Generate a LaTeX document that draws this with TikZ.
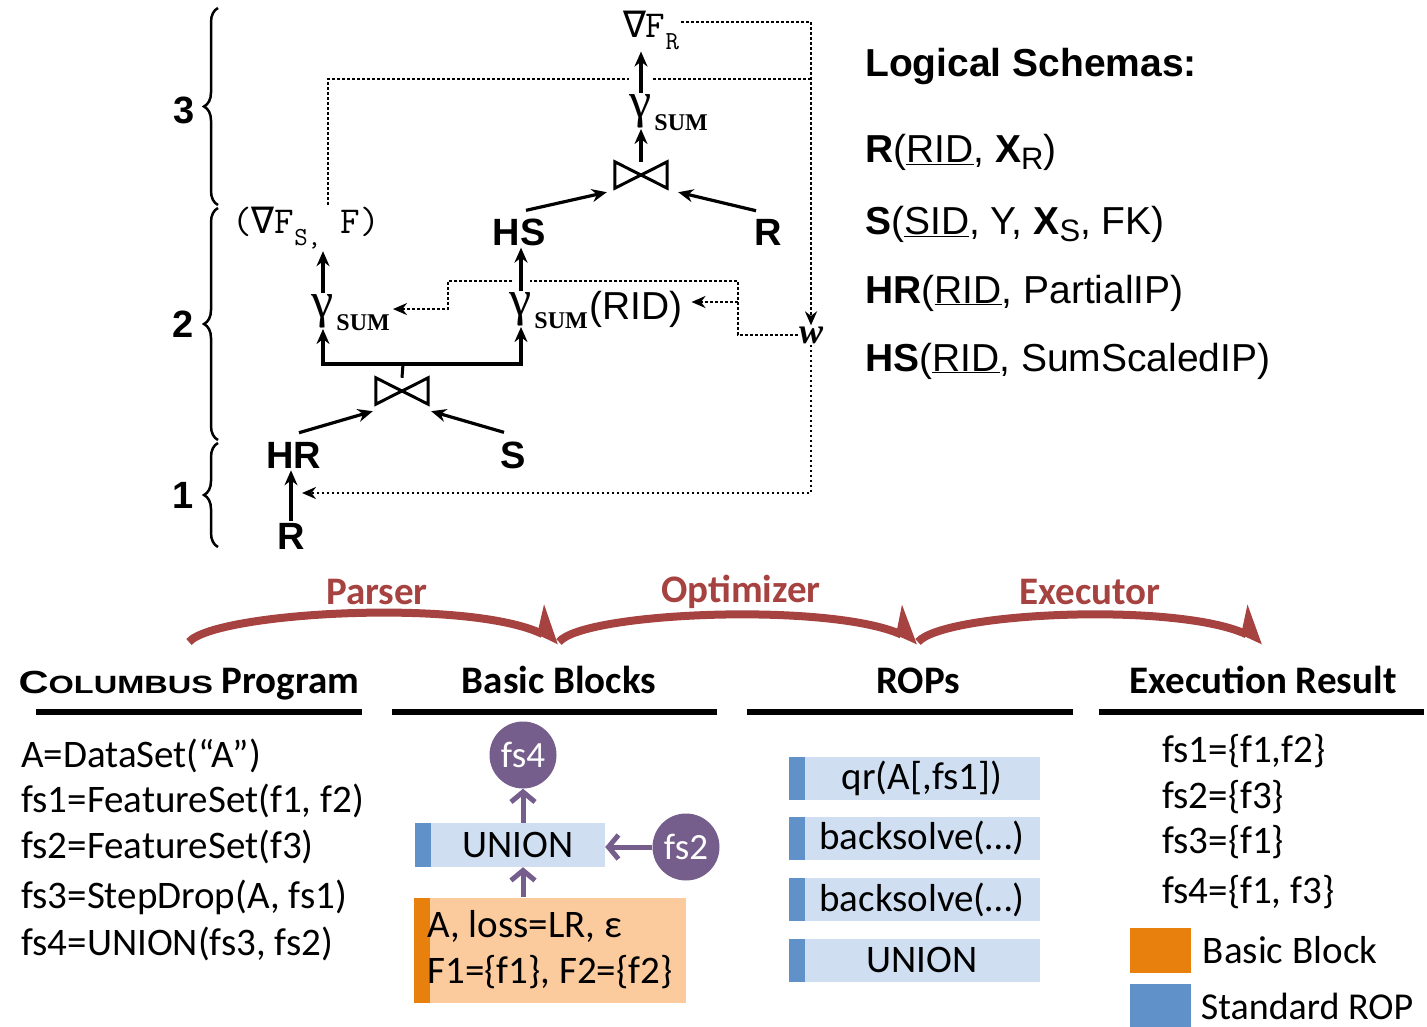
\documentclass[tikz,border=0pt]{standalone}
\usepackage{graphicx}
\usepackage{fontspec}
\usepackage{tikz}
\usetikzlibrary{arrows.meta,positioning,decorations.pathreplacing}
\setmainfont{Liberation Sans}
\newfontfamily\calibri{Carlito}
\newfontfamily\serifrm{Liberation Serif}
\newfontfamily\nablafont{DejaVu Sans Mono}
\newcommand\fsz[1]{\fontsize{#1}{#1}\selectfont}
\newcommand\grad{{\nablafont ∇}}
\definecolor{flowred}{RGB}{166,66,64}
\definecolor{fsviolet}{RGB}{117,94,140}
\definecolor{ropfill}{RGB}{207,223,241}
\definecolor{ropbar}{RGB}{96,145,201}
\definecolor{bbfill}{RGB}{251,203,157}
\definecolor{bbbar}{RGB}{232,128,14}

\begin{document}
\begin{tikzpicture}[
    x=1pt, y=-1pt,
    rel/.style={font=\bfseries\fsz{38}, inner sep=2pt},
    gam/.style={font=\serifrm\fsz{50}, inner sep=1pt},
    agg/.style={font=\serifrm\bfseries\fsz{24}, inner sep=0pt, anchor=base west},
    mono/.style={font=\ttfamily\fsz{38}, inner sep=2pt},
    bowtie/.style={minimum width=52pt, minimum height=26pt, inner sep=0pt},
    arrow/.style={-{Stealth[length=15pt,width=13pt]}, line width=3.2pt},
    fb/.style={line width=2.6pt, dash pattern=on 2.6pt off 2.4pt},
    fbarrow/.style={fb, -{Stealth[length=14pt,width=12pt]}},
    brace/.style={decorate, decoration={brace, amplitude=14pt}, line width=2.5pt},
    stage/.style={font=\bfseries\fsz{38}},
    schema/.style={font=\fsz{39}, anchor=base west, inner sep=0pt},
    phase/.style={font=\calibri\bfseries\fsz{39}, text=flowred},
    flow/.style={draw=flowred, line width=8pt, -{Stealth[harpoon, length=27pt, width=54pt, inset=6pt]}},
    head/.style={font=\calibri\bfseries\fsz{39}, anchor=base},
    hrule/.style={line width=5.5pt},
    code/.style={font=\calibri\fsz{39}, anchor=base west, inner sep=0pt},
    fset/.style={circle, fill=fsviolet, minimum size=67pt, inner sep=0pt, text=white, font=\calibri\fsz{37}},
    varrow/.style={draw=fsviolet, line width=5pt, -{Straight Barb[length=10pt, width=24pt]}},
    rop/.style={fill=ropfill, minimum width=251pt, minimum height=43pt, inner sep=0pt, font=\calibri\fsz{39},
      path picture={\fill[ropbar] (path picture bounding box.south west) rectangle ([xshift=16pt]path picture bounding box.north west);}},
    bblock/.style={fill=bbfill, minimum width=272pt, minimum height=105pt, inner sep=0pt, align=left,
      font=\calibri\fontsize{39}{46}\selectfont,
      path picture={\fill[bbbar] (path picture bounding box.south west) rectangle ([xshift=16pt]path picture bounding box.north west);}},
    legendbox/.style={minimum width=61pt, minimum height=45pt, inner sep=0pt}
]
    \useasboundingbox (0,0) rectangle (1427,1027);
    \clip (0,0) rectangle (1427,1027);

    \node[mono] (gradr) at (651,30) {\grad F\raisebox{-12pt}{\fsz{26}R}};
    \node[gam] (g3) at (641,111) {γ};
    \node[agg] (a3) at ([xshift=1pt,yshift=-13pt]g3.base east) {SUM};
    \node[bowtie] (j2) at (641,175) {};
    \node[rel] (hs) at (519,232) {HS};
    \node[rel] (rtop) at (768,232) {R};
    \node[mono] (gradsf) at (306,228) {(\grad F\raisebox{-12pt}{\fsz{26}S,} F)};
    \node[gam] (g1) at (323,311) {γ};
    \node[agg] (a1) at ([xshift=1pt,yshift=-13pt]g1.base east) {SUM};
    \node[gam] (g2) at (521,309) {γ};
    \node[agg] (a2) at ([xshift=1pt,yshift=-13pt]g2.base east) {SUM};
    \node[font=\fsz{39}, anchor=base west, inner sep=1pt] (rid) at ([yshift=9pt]a2.base east) {(RID)};
    \node[font=\serifrm\bfseries\itshape\fsz{36}, inner sep=1pt] (w) at (811,335) {w};
    \node[bowtie] (j1) at (402,391) {};
    \node[rel] (hr) at (294,455) {HR};
    \node[rel] (s) at (513,455) {S};
    \node[rel] (rbot) at (291,536) {R};

    \foreach \j in {j1,j2}
        \draw[line width=3pt, line join=miter] (\j.south west) -- (\j.north east) -- (\j.south east) -- (\j.north west) -- cycle;

    \coordinate (jsplit) at (403,364);
    \coordinate (gapl) at (629,79);
    \coordinate (gapr) at (653,79);
    \coordinate (fbjoin) at (812,79);
    \coordinate (ridgap) at (530,281);
    \coordinate (ridgap2) at (512,281);
    \coordinate (ridin) at (738,302);
    \coordinate (hrin) at (302,493);

    \draw[arrow] (rbot.north) -- (rbot.north |- hr.south);
    \draw[arrow] ([xshift=5pt,yshift=7pt]hr.north) -- ([xshift=-3pt,yshift=-7pt]j1.south west);
    \draw[arrow] ([xshift=-9pt,yshift=7pt]s.north) -- ([xshift=3pt,yshift=-7pt]j1.south east);
    \draw[line width=3pt] (j1.north) -- (jsplit);
    \draw[arrow] (jsplit) -| (g1.south);
    \draw[arrow] (jsplit) -| (g2.south);
    \draw[arrow] (g1.north) -- (g1.north |- gradsf.south);
    \draw[arrow] (g2.north) -- (g2.north |- hs.south);
    \draw[arrow] ([xshift=7pt,yshift=6pt]hs.north) -- ([xshift=-8pt,yshift=-4pt]j2.south west);
    \draw[arrow] ([xshift=-12pt,yshift=6pt]rtop.north) -- ([xshift=11pt,yshift=-4pt]j2.south east);
    \draw[arrow] (j2.north) -- (j2.north |- g3.south);
    \draw[arrow] (g3.north) -- (g3.north |- gradr.south);

    \draw[fbarrow] ([yshift=8pt]gradr.east) -| (w.north);
    \draw[fb] ([xshift=22pt]gradsf.north) |- (gapl);
    \draw[fb] (gapr) -- (fbjoin);
    \draw[fb] (w.west) -- ([xshift=-60pt]w.west) |- (ridgap);
    \draw[fbarrow] (ridgap2) -| ([xshift=58pt,yshift=5pt]a1.north east) -- ([xshift=3pt,yshift=5pt]a1.north east);
    \draw[fbarrow] (ridin) -- ([xshift=8pt]ridin -| rid.east);
    \draw[fbarrow] (w.south) |- (hrin);

    \draw[brace] (218,205) -- (218,8);
    \draw[brace] (218,440) -- (218,208);
    \draw[brace] (218,547) -- (218,443);
    \node[stage] (lv3) at (184,110) {3};
    \node[stage] (lv2) at (183,324) {2};
    \node[stage] (lv1) at (183,495) {1};

    \node[schema, font=\bfseries\fsz{39}] (lstitle) at (865,77) {Logical Schemas:};
    \node[schema] (sr) at (865,163) {\textbf{R}(\underline{RID}, \textbf{X}\raisebox{-7pt}{\fsz{31}R})};
    \node[schema] (ss) at (865,234) {\textbf{S}(\underline{SID}, Y, \textbf{X}\raisebox{-7pt}{\fsz{31}S}, FK)};
    \node[schema] (shr) at (865,303) {\textbf{HR}(\underline{RID}, PartialIP)};
    \node[schema] (shs) at (865,371) {\textbf{HS}(\underline{RID}, SumScaledIP)};

    \node[phase] (parser) at (377,592) {Parser};
    \node[phase] (optimizer) at (741,592) {Optimizer};
    \node[phase] (executor) at (1090,592) {Executor};

    \node[head] (hprog) at (189,693) {\scalebox{1.3}[1]{\normalfont\bfseries\fsz{32}C\fsz{25}OLUMBUS} Program};
    \node[head] (hbb) at (559,693) {Basic Blocks};
    \node[head] (hrop) at (918,693) {ROPs};
    \node[head] (hres) at (1263,693) {Execution Result};

    \draw[flow] ([yshift=51pt]hprog.base) .. controls +(26,-30) and +(-91,-44) .. ([yshift=51pt]hbb.base);
    \draw[flow] ([yshift=51pt]hbb.base) .. controls +(24,-30) and +(-89,-40) .. ([yshift=51pt]hrop.base);
    \draw[flow] ([yshift=51pt]hrop.base) .. controls +(26,-30) and +(-86,-40) .. ([yshift=51pt]hres.base);

    \draw[hrule] (36,712) -- (362,712);
    \draw[hrule] (392,712) -- (717,712);
    \draw[hrule] (747,712) -- (1073,712);
    \draw[hrule] (1099,712) -- (1424,712);

    \node[code] (c1) at (21,767) {A=DataSet(“A”)};
    \node[code] (c2) at (21,812) {fs1=FeatureSet(f1, f2)};
    \node[code] (c3) at (21,858) {fs2=FeatureSet(f3)};
    \node[code] (c4) at (21,908) {fs3=StepDrop(A, fs1)};
    \node[code] (c5) at (21,955) {fs4=UNION(fs3, fs2)};

    \node[fset] (fs4) at (523,755) {fs4};
    \node[rop, minimum width=190pt, minimum height=44pt] (union1) at (510,845) {\hspace{16pt}UNION};
    \node[fset] (fs2) at (686,847) {fs2};
    \node[bblock] (bb) at (550,950) {A, loss=LR, ε\\F1=\{f1\}, F2=\{f2\}};
    \draw[varrow] (fs4.south |- union1.north) -- (fs4.south);
    \draw[varrow] (fs4.south |- bb.north) -- (fs4.south |- union1.south);
    \draw[varrow] (fs2.west) -- (fs2.west -| union1.east);

    \node[rop] (rop1) at (914,778) {\hspace{16pt}qr(A[,fs1])};
    \node[rop, below=17pt of rop1] (rop2) {\hspace{16pt}backsolve(…)};
    \node[rop, below=18pt of rop2] (rop3) {\hspace{16pt}backsolve(…)};
    \node[rop, below=17pt of rop3] (rop4) {\hspace{16pt}UNION};

    \node[code] (r1) at (1162,762) {fs1=\{f1,f2\}};
    \node[code] (r2) at (1162,808) {fs2=\{f3\}};
    \node[code] (r3) at (1162,853) {fs3=\{f1\}};
    \node[code] (r4) at (1162,903) {fs4=\{f1, f3\}};
    \node[legendbox, fill=bbbar] (kbb) at (1160,950) {};
    \node[font=\calibri\fsz{39}, inner sep=0pt, right=12pt of kbb] (kbbl) {Basic Block};
    \node[legendbox, fill=ropbar] (krop) at (1160,1006) {};
    \node[font=\calibri\fsz{38}, inner sep=0pt, right=10pt of krop] (kropl) {Standard ROP};
\end{tikzpicture}
\end{document}
